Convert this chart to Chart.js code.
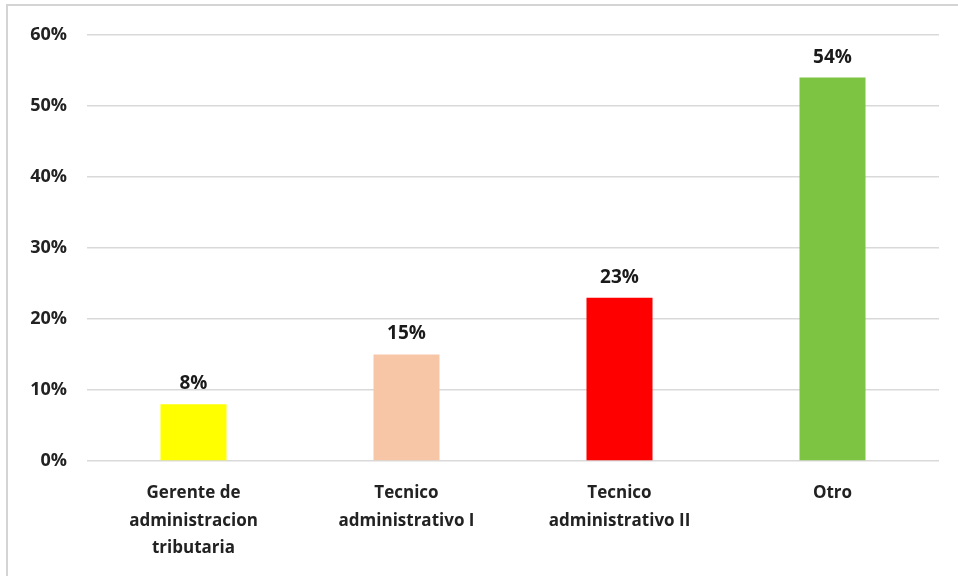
<!DOCTYPE html>
<html>
<head>
<meta charset="utf-8">
<script src="https://cdn.jsdelivr.net/npm/chart.js@4"></script>
<style>
  html, body { margin: 0; padding: 0; background: #fff; }
  #wrap { width: 958px; height: 578px; }
</style>
</head>
<body>
<div id="wrap"><canvas id="myChart"></canvas></div>
<script>
const categories = [
  ['Gerente de', 'administracion', 'tributaria'],
  ['Tecnico', 'administrativo I'],
  ['Tecnico', 'administrativo II'],
  'Otro'
]
const values = [8, 15, 23, 54]
const barColors = ['#FFFF00', '#F7C6A6', '#FF0000', '#7EC443']
const yTicks = [0, 10, 20, 30, 40, 50, 60]

const FONT = '"Open Sans", "DejaVu Sans", sans-serif'

// labels above the bars, like the data labels of the original
const valueLabels = {
  id: 'valueLabels',
  afterDatasetsDraw(chart) {
    const ctx = chart.ctx
    const meta = chart.getDatasetMeta(0)
    ctx.save()
    ctx.font = 'bold 19px ' + FONT
    ctx.fillStyle = '#1a1a1a'
    ctx.textAlign = 'center'
    ctx.textBaseline = 'bottom'
    meta.data.forEach((bar, i) => {
      ctx.fillText(values[i] + '%', bar.x, bar.y - 11)
    })
    ctx.restore()
  }
}

// thin frame on the left and top edge
const frame = {
  id: 'frame',
  beforeDraw(chart) {
    const ctx = chart.ctx
    ctx.save()
    ctx.strokeStyle = '#d4d4d4'
    ctx.lineWidth = 2
    ctx.beginPath()
    ctx.moveTo(7, 576)
    ctx.lineTo(7, 5)
    ctx.lineTo(958, 5)
    ctx.stroke()
    ctx.restore()
  }
}

new Chart(document.getElementById('myChart'), {
  type: 'bar',
  data: {
    labels: categories,
    datasets: [{
      data: values,
      backgroundColor: barColors,
      borderWidth: 0,
      categoryPercentage: 1,
      barPercentage: 0.31
    }]
  },
  options: {
    responsive: true,
    maintainAspectRatio: false,
    animation: false,
    layout: { padding: { top: 35, right: 19, bottom: 0, left: 0 } },
    plugins: {
      legend: { display: false },
      tooltip: { enabled: false }
    },
    scales: {
      x: {
        grid: { display: false, drawTicks: false },
        border: { display: false },
        ticks: {
          color: '#222',
          font: { family: FONT, size: 17, weight: 'bold', lineHeight: 1.6 },
          padding: 19,
          maxRotation: 0,
          autoSkip: false
        },
        afterFit(scale) { scale.height = 117 }
      },
      y: {
        min: 0,
        max: 60,
        afterBuildTicks(scale) { scale.ticks = yTicks.map(v => ({ value: v })) },
        grid: { color: '#d9d9d9', lineWidth: 1.5, drawTicks: false },
        border: { display: false },
        ticks: {
          color: '#222',
          font: { family: FONT, size: 18, weight: 'bold' },
          padding: 20,
          callback: v => v + '%'
        },
        afterFit(scale) { scale.width = 87 }
      }
    }
  },
  plugins: [valueLabels, frame]
})
</script>
</body>
</html>
